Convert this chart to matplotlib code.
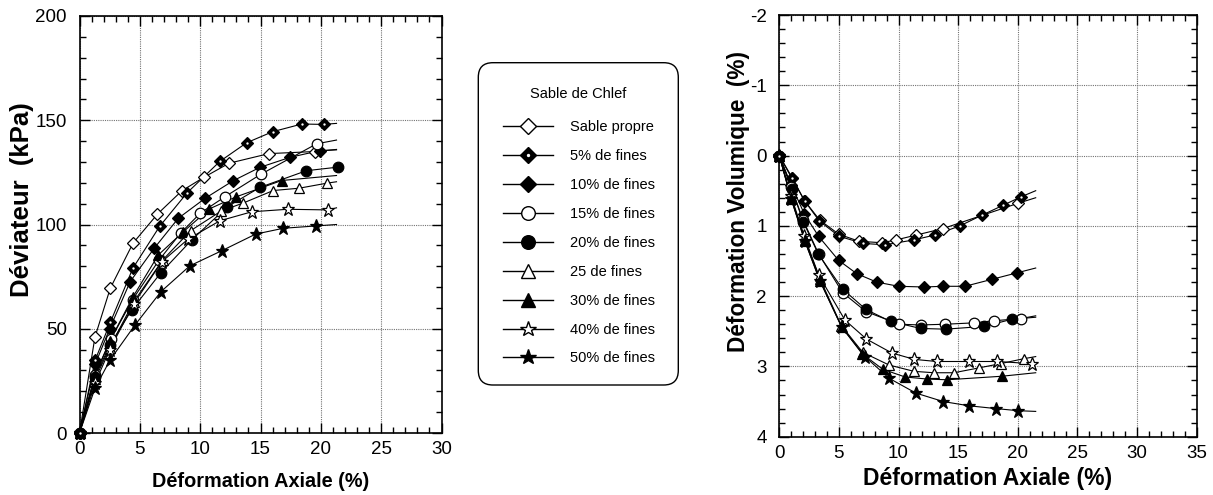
import matplotlib
matplotlib.use("Agg")
import matplotlib.pyplot as plt
from matplotlib.lines import Line2D
from matplotlib.patches import FancyBboxPatch
from matplotlib.legend_handler import HandlerTuple
from matplotlib.ticker import MultipleLocator

plt.rcParams["font.family"] = ["Liberation Sans", "DejaVu Sans"]
plt.rcParams["axes.unicode_minus"] = False

labels = ["Sable propre", "5% de fines", "10% de fines", "15% de fines",
          "20% de fines", "25 de fines", "30% de fines", "40% de fines",
          "50% de fines"]

# Deviator stress q (kPa) vs axial strain (%)
q_x = [
    [0, 1.28, 2.55, 4.43, 6.46, 8.49, 10.3, 12.4, 15.7, 19.5, 21.3],
    [0, 1.3, 2.55, 4.42, 6.64, 8.92, 11.64, 13.85, 16.0, 18.43, 20.23, 21.3],
    [0, 1.3, 2.5, 4.2, 6.19, 8.19, 10.42, 12.74, 14.95, 17.44, 19.9, 21.3],
    [0, 1.3, 2.6, 4.4, 6.6, 8.4, 10.02, 12.05, 15.0, 19.65, 21.3],
    [0, 1.28, 2.53, 4.32, 6.75, 9.3, 12.25, 14.95, 18.8, 21.4],
    [0, 1.3, 2.5, 4.5, 6.9, 9.2, 11.75, 13.57, 16.06, 18.2, 20.48, 21.3],
    [0, 1.3, 2.5, 4.4, 6.53, 8.6, 10.77, 12.95, 16.75, 21.3],
    [0, 1.3, 2.5, 4.5, 6.8, 9.0, 11.64, 14.28, 17.25, 20.6, 21.3],
    [0, 1.28, 2.53, 4.6, 6.75, 9.15, 11.78, 14.6, 16.9, 19.57, 21.3],
]
q_y = [
    [0, 46, 69.4, 91, 105, 116.2, 122.6, 129.4, 134, 135, 136],
    [0, 35, 53, 79, 99.1, 115.2, 130.3, 139.2, 144.5, 148.2, 148, 148.5],
    [0, 33, 50, 72.6, 88.6, 103, 112.6, 121, 127.4, 132.2, 135.4, 135.8],
    [0, 28, 45, 64, 83, 96, 105.5, 113.3, 124, 138.7, 140.5],
    [0, 27, 42.2, 59, 76.9, 92.6, 108.5, 117.8, 125.8, 127.5],
    [0, 26, 41, 63, 83, 97, 106.5, 110.3, 116.3, 117.4, 119.8, 120.5],
    [0, 28, 44, 65, 85.4, 96.5, 107.5, 113.2, 121.1, 123.5],
    [0, 24, 40, 62, 82, 93, 101.8, 106.1, 107.3, 107, 108],
    [0, 21.4, 35, 51.8, 67.8, 80.2, 87.4, 95.4, 98.2, 99.3, 100],
]
q_last_marked = [False, False, False, False, True, False, False, False, False]

# Volumetric strain (%) vs axial strain (%)
ev_x = [
    [0, 1.1, 2.1, 3.4, 5.0, 6.7, 8.6, 9.8, 11.5, 13.7, 20.0, 21.5],
    [0, 1.04, 2.15, 3.35, 5.03, 7.04, 8.86, 11.29, 13.05, 15.15, 16.97, 18.73, 20.23, 21.5],
    [0, 1.0, 2.1, 3.3, 4.97, 6.49, 8.16, 10.0, 12.15, 13.7, 15.57, 17.85, 19.9, 21.5],
    [0, 1.0, 2.0, 3.3, 5.31, 7.27, 10.06, 11.85, 13.89, 16.35, 18.0, 20.23, 21.5],
    [0, 1.04, 2.0, 3.27, 5.31, 7.27, 9.33, 11.85, 13.95, 17.19, 19.48, 21.5],
    [0, 1.0, 2.15, 3.4, 5.2, 7.0, 9.2, 11.29, 12.97, 14.64, 16.77, 18.56, 20.51, 21.5],
    [0, 1.0, 2.15, 3.4, 5.23, 6.95, 8.67, 10.54, 12.41, 14.08, 18.64, 21.5],
    [0, 1.0, 2.1, 3.3, 5.5, 7.3, 9.45, 11.33, 13.19, 15.93, 18.27, 21.15, 21.5],
    [0, 1.0, 2.15, 3.4, 5.23, 7.18, 9.22, 11.46, 13.75, 15.9, 18.16, 20.03, 21.5],
]
ev_y = [
    [0, 0.32, 0.64, 0.92, 1.12, 1.22, 1.24, 1.2, 1.13, 1.04, 0.68, 0.60],
    [0, 0.32, 0.65, 0.93, 1.15, 1.25, 1.27, 1.2, 1.13, 1.0, 0.85, 0.71, 0.59, 0.50],
    [0, 0.42, 0.83, 1.15, 1.49, 1.68, 1.80, 1.86, 1.87, 1.86, 1.86, 1.76, 1.67, 1.60],
    [0, 0.45, 0.92, 1.40, 1.95, 2.22, 2.40, 2.41, 2.40, 2.38, 2.35, 2.32, 2.28],
    [0, 0.47, 0.94, 1.40, 1.90, 2.19, 2.36, 2.46, 2.47, 2.43, 2.33, 2.30],
    [0, 0.60, 1.20, 1.75, 2.42, 2.80, 2.98, 3.07, 3.09, 3.09, 3.02, 2.96, 2.89, 2.86],
    [0, 0.62, 1.22, 1.78, 2.44, 2.82, 3.04, 3.15, 3.18, 3.19, 3.14, 3.09],
    [0, 0.58, 1.15, 1.70, 2.34, 2.61, 2.81, 2.90, 2.93, 2.93, 2.93, 2.96, 2.95],
    [0, 0.62, 1.22, 1.78, 2.44, 2.86, 3.17, 3.38, 3.50, 3.56, 3.60, 3.63, 3.64],
]

# marker, face colour, plot size, legend size
styles = [
    ("D", "white", 6.2, 8.6),
    ("D", "black", 6.2, 8.6),
    ("D", "black", 6.2, 8.6),
    ("o", "white", 7.6, 9.8),
    ("o", "black", 7.6, 9.8),
    ("^", "white", 7.8, 9.8),
    ("^", "black", 7.8, 9.8),
    ("*", "white", 9.8, 11.5),
    ("*", "black", 9.8, 11.5),
]
DOTTED = 1  # the 5% series carries a white centre dot

W, H = 1213, 495
fig = plt.figure(figsize=(W / 100, H / 100), dpi=100)
ax1 = fig.add_axes([79.5 / W, 1 - 433 / H, 362 / W, 417 / H])
ax2 = fig.add_axes([779.3 / W, 1 - 436.7 / H, 417.4 / W, 421.7 / H])


def draw(ax, xs, ys, last_marked):
    for i, (x, y) in enumerate(zip(xs, ys)):
        m, fc, ms, _ = styles[i]
        n = len(x) if last_marked[i] else len(x) - 1
        ax.plot(x, y, color="black", lw=0.8, zorder=3, clip_on=False)
        ax.plot(x[:n], y[:n], ls="none", marker=m, ms=ms, mfc=fc, mec="black",
                mew=0.9, zorder=4, clip_on=False)
        if i == DOTTED:
            ax.plot(x[:n], y[:n], ls="none", marker="o", ms=1.7, mfc="white",
                    mec="white", mew=0, zorder=5, clip_on=False)


def style_axes(ax):
    ax.grid(True, which="major", color="0.45", lw=0.8, ls=(0, (1, 1)))
    ax.tick_params(which="both", direction="in", top=True, right=True,
                   labelsize=13.5, width=1.0)
    ax.tick_params(axis="x", which="both", pad=6)
    ax.tick_params(axis="y", which="both", pad=9)
    ax.tick_params(which="major", length=7)
    ax.tick_params(which="minor", length=4)
    for s in ax.spines.values():
        s.set_linewidth(1.2)
    ax.set_axisbelow(True)


draw(ax1, q_x, q_y, q_last_marked)
ax1.set_xlim(0, 30)
ax1.set_ylim(0, 200)
ax1.xaxis.set_major_locator(MultipleLocator(5))
ax1.xaxis.set_minor_locator(MultipleLocator(1))
ax1.yaxis.set_major_locator(MultipleLocator(50))
ax1.yaxis.set_minor_locator(MultipleLocator(10))
style_axes(ax1)
ax1.set_xlabel("Déformation Axiale (%)", fontsize=14.3, fontweight="bold")
ax1.xaxis.set_label_coords(0.5, -0.094)
ax1.set_ylabel("Déviateur  (kPa)", fontsize=18.5, fontweight="bold")
ax1.yaxis.set_label_coords(-0.126, 0.56)

draw(ax2, ev_x, ev_y, [False] * 9)
ax2.set_xlim(0, 35)
ax2.set_ylim(4, -2)
ax2.xaxis.set_major_locator(MultipleLocator(5))
ax2.xaxis.set_minor_locator(MultipleLocator(1))
ax2.yaxis.set_major_locator(MultipleLocator(1))
ax2.yaxis.set_minor_locator(MultipleLocator(0.2))
style_axes(ax2)
ax2.set_xlabel("Déformation Axiale (%)", fontsize=16.5, fontweight="bold")
ax2.xaxis.set_label_coords(0.5, -0.072)
ax2.set_ylabel("Déformation Volumique  (%)", fontsize=16.3, fontweight="bold")
ax2.yaxis.set_label_coords(-0.07, 0.557)

# legend panel
box = FancyBboxPatch((478.3 / W, 1 - 385 / H), 200 / W, 322.3 / H,
                     boxstyle="round,pad=0,rounding_size=0.012",
                     transform=fig.transFigure, fc="white", ec="black", lw=1.0,
                     mutation_aspect=W / H)
fig.patches.append(box)
fig.text(578.5 / W, 1 - 93.5 / H, "Sable de Chlef", ha="center", va="center",
         fontsize=10.5)

handles = []
for i, (m, fc, _, lms) in enumerate(styles):
    h = Line2D([], [], color="black", lw=1.0, marker=m, ms=lms, mfc=fc,
               mec="black", mew=1.0)
    if i == DOTTED:
        dot = Line2D([], [], ls="none", marker="o", ms=2.4, mfc="white",
                     mec="white", mew=0)
        h = (h, dot)
    handles.append(h)

leg = fig.legend(handles, labels, loc="upper left",
                 bbox_to_anchor=(503 / W, 1 - 120.5 / H), frameon=False,
                 fontsize=10.5, handlelength=3.4, handletextpad=1.2,
                 labelspacing=1.02, borderpad=0, borderaxespad=0,
                 handler_map={tuple: HandlerTuple(ndivide=1)})

fig.savefig("out.png", dpi=100)
